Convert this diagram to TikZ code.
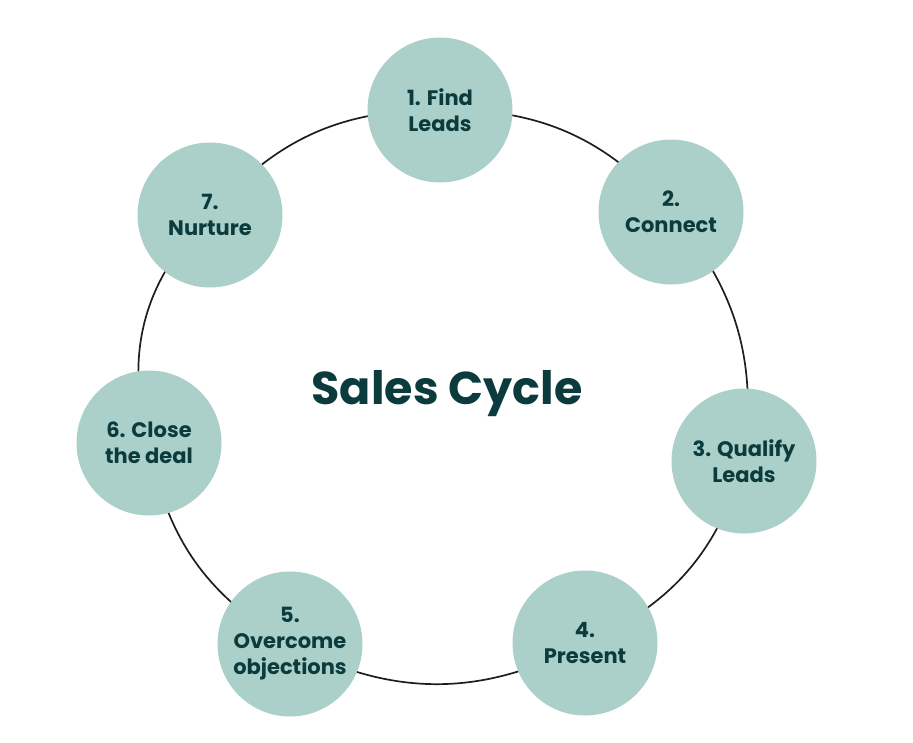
\documentclass[tikz,border=0pt]{standalone}
\usepackage{fontspec}
\setmainfont{Poppins}
\usetikzlibrary{backgrounds}
\definecolor{nodefill}{HTML}{ABD0CA}
\definecolor{ink}{HTML}{0B3B3C}
\definecolor{linec}{HTML}{1E1E1E}
\begin{document}
\begin{tikzpicture}[x=1pt,y=-1pt,
  stage/.style={circle, fill=nodefill, minimum size=145pt, inner sep=0pt, align=center, text=ink, font=\fontsize{21}{26}\selectfont\bfseries},
  link/.style={draw=linec, line width=1.7pt},
  titletext/.style={text=ink, font=\fontsize{46}{50}\selectfont\bfseries, anchor=base, inner sep=0pt}]
\useasboundingbox (0,0) rectangle (913,742);
\node[stage] (n1) at (440,110) {1. Find\\Leads};
\node[stage] (n2) at (671,212) {2.\\Connect};
\node[stage] (n3) at (744,461) {3. Qualify\\Leads};
\node[stage] (n4) at (585,643) {4.\\Present};
\node[stage] (n5) at (290,644) {5.\\Overcome\\objections};
\node[stage] (n6) at (149,443) {6. Close\\the deal};
\node[stage] (n7) at (210,215) {7.\\Nurture};
\node[titletext] (title) at (447,404) {Sales Cycle};
\begin{scope}[on background layer]
\draw[link] (n1.center) to[bend left=25] (n2.center);
\draw[link] (n2.center) to[bend left=24] (n3.center);
\draw[link] (n3.center) to[bend left=25] (n4.center);
\draw[link] (n4.center) to[bend left=28] (n5.center);
\draw[link] (n5.center) to[bend left=25] (n6.center);
\draw[link] (n6.center) to[bend left=31] (n7.center);
\draw[link] (n7.center) to[bend left=25] (n1.center);
\end{scope}
\end{tikzpicture}
\end{document}
